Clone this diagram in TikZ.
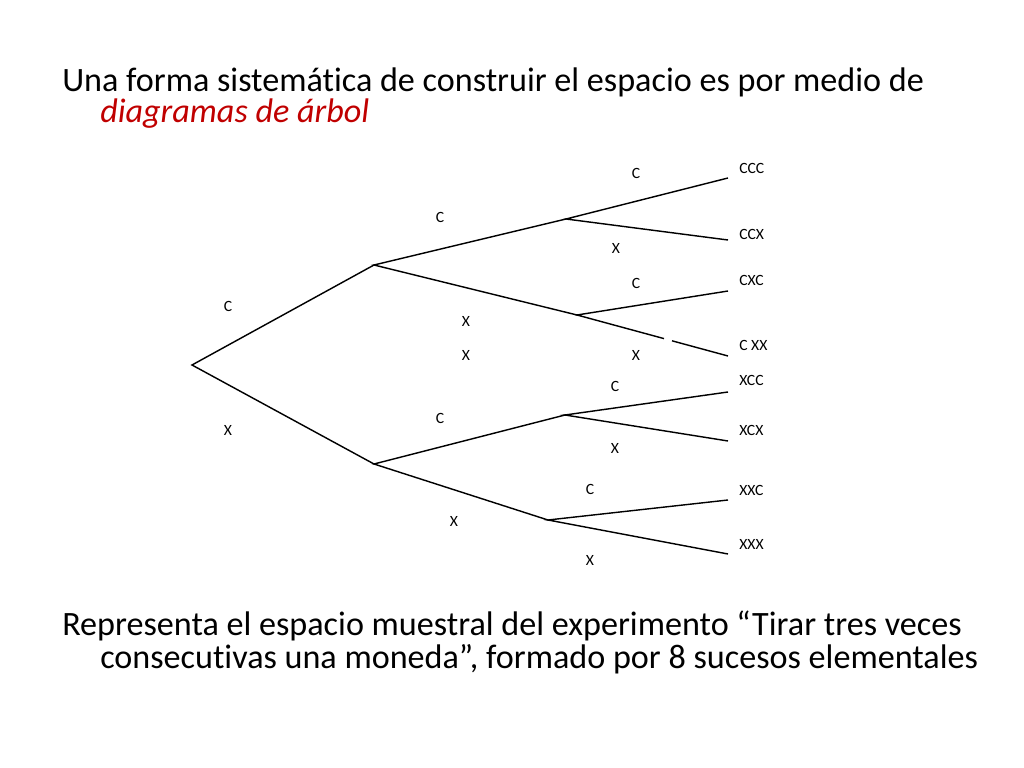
\documentclass[tikz,border=0pt]{standalone}
\usepackage{fontspec}
\setmainfont{Carlito}[Ligatures=NoCommon]
\usepackage{tikz}
\usetikzlibrary{calc}
\definecolor{arbolred}{RGB}{192,0,0}

\begin{document}
\begin{tikzpicture}[x=0.703125pt, y=-0.703125pt,
		bigtext/.style={anchor=base west, inner sep=0, font=\fontsize{24}{28}\selectfont},
		branch/.style={line width=1pt},
		lbl/.style={inner sep=0, font=\fontsize{11}{13}\selectfont},
		leaf/.style={anchor=west, inner sep=0, font=\fontsize{11}{13}\selectfont}]
			\useasboundingbox (0, 0) rectangle (1024, 768);
			% title text
			\node[bigtext] (intro) at (62, 92) {Una forma sistemática de construir el espacio es por medio de};
			\node[bigtext, text = arbolred, font = \fontsize{24}{28}\selectfont\itshape] (intro2) at (100, 123) {diagramas de árbol};
			% closing text
			\node[bigtext] (expl) at (62, 635) {Representa el espacio muestral del experimento “Tirar tres veces};
			\node[bigtext] (expl2) at (100, 668) {consecutivas una moneda”, formado por 8 sucesos elementales};
			% tree points
			\coordinate (root) at (192, 365);
			\coordinate (c) at (374, 265);
			\coordinate (x) at (374, 464);
			\coordinate (cc) at (566, 219);
			\coordinate (cx) at (577, 315);
			\coordinate (xc) at (565, 415);
			\coordinate (xx) at (548, 520);
			\coordinate (ccc) at (728, 178);
			\coordinate (ccx) at (728, 240);
			\coordinate (cxc) at (728, 291);
			\coordinate (cxx) at (728, 356);
			\coordinate (xcc) at (728, 392);
			\coordinate (xcx) at (728, 441);
			\coordinate (xxc) at (728, 500);
			\coordinate (xxx) at (728, 554);
			\coordinate (gapa) at (664, 338.6);
			\coordinate (gapb) at (672, 340.8);
			% branches
			\draw[branch] (c) -- (root) -- (x);
			\draw[branch] (cc) -- (c) -- (cx);
			\draw[branch] (xc) -- (x) -- (xx);
			\draw[branch] (ccc) -- (cc) -- (ccx);
			\draw[branch] (cxc) -- (cx) -- (gapa);
			\draw[branch] (gapb) -- (cxx);
			\draw[branch] (xcc) -- (xc) -- (xcx);
			\draw[branch] (xxc) -- (xx) -- (xxx);
			% branch labels
			\node[lbl] (lc) at (228, 306) {C};
			\node[lbl] (lx) at (228, 430) {X};
			\node[lbl] (lcc) at (440, 217) {C};
			\node[lbl] (lcx) at (466, 321) {X};
			\node[lbl] (lcx2) at (466, 355) {X};
			\node[lbl] (lxc) at (440, 418) {C};
			\node[lbl] (lxx) at (454, 521) {X};
			\node[lbl] (lccc) at (636, 173) {C};
			\node[lbl] (lccx) at (616, 248) {X};
			\node[lbl] (lcxc) at (636, 283) {C};
			\node[lbl] (lcxx) at (636, 355) {X};
			\node[lbl] (lxcc) at (615, 386) {C};
			\node[lbl] (lxcx) at (615, 448) {X};
			\node[lbl] (lxxc) at (590, 489) {C};
			\node[lbl] (lxxx) at (590, 560) {X};
			% outcomes
			\node[leaf] (occc) at (739, 168) {CCC};
			\node[leaf] (occx) at (739, 234) {CCX};
			\node[leaf] (ocxc) at (739, 280) {CXC};
			\node[leaf] (ocxx) at (739, 345) {C XX};
			\node[leaf] (oxcc) at (739, 380) {XCC};
			\node[leaf] (oxcx) at (739, 430) {XCX};
			\node[leaf] (oxxc) at (739, 490) {XXC};
			\node[leaf] (oxxx) at (739, 544) {XXX};
		\end{tikzpicture}
\end{document}
